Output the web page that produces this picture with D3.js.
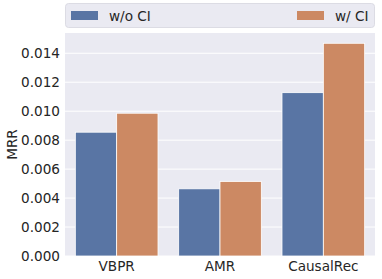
<!DOCTYPE html>
<html>
<head>
<meta charset="utf-8">
<script src="https://d3js.org/d3.v7.min.js"></script>
<style>
  body { margin: 0; background: #fff; }
  text { font-family: "DejaVu Sans", sans-serif; fill: #262626; }
</style>
</head>
<body>
<svg id="chart"></svg>
<script>
// data
const models = ["VBPR", "AMR", "CausalRec"];
const series = ["w/o CI", "w/ CI"];
const woCI = [0.00855, 0.00464, 0.01128];
const wCI = [0.00986, 0.00515, 0.01469];
const yTicks = [0, 0.002, 0.004, 0.006, 0.008, 0.010, 0.012, 0.014];
const colors = ["#5975a4", "#cc8963"];

const W = 382, H = 279;
const margin = { top: 33, right: 7, bottom: 23, left: 65 };
const width = W - margin.left - margin.right,
      height = H - margin.top - margin.bottom;
const fs = "13.6px";

const svg = d3.select("#chart").attr("width", W).attr("height", H);
const g = svg.append("g").attr("transform", `translate(${margin.left},${margin.top})`);

g.append("rect").attr("width", width).attr("height", height).attr("fill", "#eaeaf2");

const x = d3.scaleBand().domain(models).range([0, width]).paddingInner(0.2).paddingOuter(0.1);
const xs = d3.scaleBand().domain(series).range([0, x.bandwidth()]);
const y = d3.scaleLinear().domain([0, 0.0154]).range([height, 0]);

// grid
g.selectAll(".grid").data(yTicks).enter().append("line")
  .attr("x1", 0).attr("x2", width)
  .attr("y1", d => y(d)).attr("y2", d => y(d))
  .attr("stroke", "#fff").attr("stroke-width", 1);

// bars
const rows = models.map((m, i) => ({ m, vals: [woCI[i], wCI[i]] }));
g.selectAll(".grp").data(rows).enter().append("g")
  .attr("transform", d => `translate(${x(d.m)},0)`)
  .selectAll("rect").data(d => d.vals.map((v, j) => ({ s: series[j], v, j })))
  .enter().append("rect")
  .attr("x", d => xs(d.s)).attr("width", xs.bandwidth())
  .attr("y", d => y(d.v)).attr("height", d => height - y(d.v))
  .attr("fill", d => colors[d.j])
  .attr("stroke", "#fff").attr("stroke-width", 0.8);

// axes
const yAxis = g.append("g").call(d3.axisLeft(y).tickValues(yTicks).tickFormat(d3.format(".3f")).tickSize(0).tickPadding(5));
yAxis.select(".domain").remove();
yAxis.selectAll("text").style("font-size", fs).attr("font-family", "DejaVu Sans").style("fill", "#262626");

const xAxis = g.append("g").attr("transform", `translate(0,${height})`)
  .call(d3.axisBottom(x).tickSize(0).tickPadding(5));
xAxis.select(".domain").remove();
xAxis.selectAll("text").style("font-size", fs).attr("font-family", "DejaVu Sans").style("fill", "#262626");

svg.append("text").attr("transform", `translate(17,${margin.top + height / 2}) rotate(-90)`)
  .attr("text-anchor", "middle").style("font-size", fs).text("MRR");

// legend
const lg = svg.append("g");
lg.append("rect").attr("x", 65.5).attr("y", 3.5).attr("width", 309).attr("height", 24)
  .attr("rx", 3).attr("fill", "#eaeaf2").attr("stroke", "#d6d6de").attr("stroke-width", 0.8);
const lx = [71, 297];
series.forEach((s, i) => {
  lg.append("rect").attr("x", lx[i]).attr("y", 11).attr("width", 27).attr("height", 9).attr("fill", colors[i]);
  lg.append("text").attr("x", lx[i] + 38).attr("y", 20.5).style("font-size", fs).text(s);
});
</script>
</body>
</html>
